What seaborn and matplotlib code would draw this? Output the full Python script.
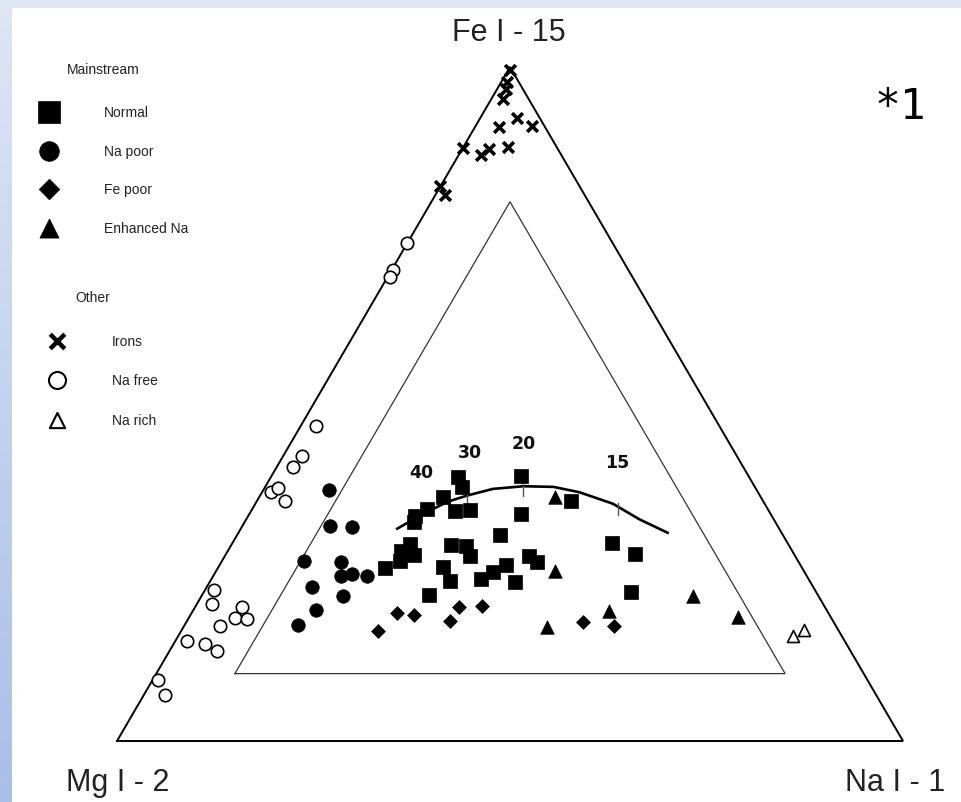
import numpy as np
import pandas as pd
import matplotlib
matplotlib.use("Agg")
import matplotlib.pyplot as plt
import seaborn as sns

# ---------------- data (ternary percentages: Fe, Na; Mg = 100 - Fe - Na) ----------------
normal_fe = [39.2, 37.7, 36.2, 34.4, 33.4, 32.5, 34.1, 34.3, 39.3, 33.7, 35.6, 30.6, 29.1, 28.9, 27.4, 29.2,
             28.2, 27.6, 26.7, 25.7, 25.8, 23.7, 24.0, 25.1, 26.1, 23.6, 27.4, 26.6, 21.7, 29.4, 27.7, 22.1]
normal_na = [23.8, 25.1, 23.4, 22.2, 21.2, 21.5, 25.9, 27.7, 31.7, 34.5, 40.0, 33.4, 27.9, 30.0, 31.2, 22.7,
             22.0, 24.0, 22.6, 21.2, 28.6, 30.5, 34.3, 35.3, 36.5, 38.8, 38.7, 40.1, 28.8, 48.3, 52.1, 54.3]
na_poor_fe = [37.2, 31.9, 31.8, 26.7, 26.6, 24.5, 24.8, 24.5, 22.8, 21.5, 19.4, 17.2]
na_poor_na = [8.4, 11.2, 14.0, 10.5, 15.2, 16.2, 17.5, 19.6, 13.4, 18.0, 15.6, 14.4]
fe_poor_fe = [16.3, 19.0, 18.7, 17.8, 19.9, 20.0, 17.7, 17.1]
fe_poor_na = [25.1, 26.1, 28.4, 33.5, 33.6, 36.4, 50.5, 54.7]
enh_na_fe = [36.2, 25.2, 19.3, 16.9, 21.5, 18.4]
enh_na_na = [37.6, 43.1, 52.9, 46.3, 62.5, 69.8]
irons_fe = [99.5, 97.8, 96.7, 95.3, 91.1, 92.4, 91.2, 88.0, 86.9, 87.8, 88.1, 82.3, 81.0]
irons_na = [0.2, 0.7, 1.2, 1.4, 3.0, 4.7, 7.2, 0.0, 2.8, 3.4, 5.7, 0.0, 1.2]
na_free_fe = [73.9, 69.9, 68.8, 46.7, 42.3, 40.7, 36.9, 37.5, 35.6, 22.4, 20.3, 17.1, 14.8, 14.4,
              13.4, 19.9, 18.2, 18.1, 9.1, 6.8]
na_free_na = [0.0, 0.2, 0.3, 2.0, 2.4, 2.1, 1.2, 1.7, 3.6, 1.1, 1.9, 4.5, 1.5, 4.0,
              6.0, 6.0, 5.9, 7.5, 0.7, 2.7]
na_rich_fe = [15.6, 16.5]
na_rich_na = [78.2, 79.1]

trend_fe = [31.5, 33.4, 35.5, 36.4, 37.4, 37.8, 37.7, 36.9, 35.2, 32.9, 30.9]
trend_na = [19.9, 21.8, 24.3, 26.3, 29.1, 32.8, 36.7, 40.4, 45.5, 50.0, 54.6]
trend_labels = ["40", "30", "20", "15"]
trend_label_fe = [39.9, 42.9, 44.2, 41.4]
trend_label_na = [18.8, 23.4, 29.6, 43.0]
trend_tick_fe = [36.4, 37.8, 34.9]
trend_tick_na = [26.3, 32.8, 46.3]

outer_fe = [0, 0, 100, 0]
outer_na = [0, 100, 0, 0]
inner_fe = [10, 10, 80, 10]
inner_na = [10, 80, 10, 10]

apex_labels = ["Fe I - 15", "Mg I - 2", "Na I - 1"]


def tern(fe, na):
    fe = np.asarray(fe, float) / 100.0
    na = np.asarray(na, float) / 100.0
    return na + fe / 2.0, fe


frames = []
for name, fe, na in [("Normal", normal_fe, normal_na), ("Na poor", na_poor_fe, na_poor_na),
                     ("Fe poor", fe_poor_fe, fe_poor_na), ("Enhanced Na", enh_na_fe, enh_na_na),
                     ("Irons", irons_fe, irons_na), ("Na free", na_free_fe, na_free_na),
                     ("Na rich", na_rich_fe, na_rich_na)]:
    x, y = tern(fe, na)
    frames.append(pd.DataFrame({"group": name, "x": x, "y": y}))
df = pd.concat(frames, ignore_index=True)

# ---------------- figure ----------------
W, H = 961, 803
fig = plt.figure(figsize=(W / 100, H / 100), dpi=100)

# background frame (light blue band top / left)
bg = fig.add_axes([0, 0, 1, 1])
img = np.ones((H, W, 3))
top_c = np.array([0xdf, 0xe6, 0xf4]) / 255.0
bot_c = np.array([0xa8, 0xbf, 0xe8]) / 255.0
img[:9, :, :] = top_c
t = np.linspace(0, 1, H)[:, None]
img[:, :12, :] = (top_c * (1 - t) + bot_c * t)[:, None, :].repeat(12, axis=1)
bg.imshow(img, extent=[0, W, H, 0], aspect="auto", interpolation="bilinear")
bg.set_xlim(0, W)
bg.set_ylim(H, 0)
bg.axis("off")

ax = fig.add_axes([0, 0, 1, 1])
ax.patch.set_alpha(0)
L, R, B, T = 117, 903, 742, 68


def px(x, y):
    return (x - L) / (R - L), (B - y) / (B - T)


ox, oy = tern(outer_fe, outer_na)
ax.plot(ox, oy, color="black", lw=1.4, solid_joinstyle="miter", zorder=1)
ix, iy = tern(inner_fe, inner_na)
ax.plot(ix, iy, color="#333333", lw=0.9, solid_joinstyle="miter", zorder=1)

tx, ty = tern(trend_fe, trend_na)
ax.plot(tx, ty, color="black", lw=1.9, zorder=2)
kx, ky = tern(trend_tick_fe, trend_tick_na)
for xx, yy in zip(kx, ky):
    ax.plot([xx, xx], [yy + 0.004, yy - 0.014], color="#555555", lw=1.0, zorder=2)
lx, ly = tern(trend_label_fe, trend_label_na)
for lab, xx, yy in zip(trend_labels, lx, ly):
    ax.text(xx, yy, lab, ha="center", va="center", fontsize=12.5, fontweight="bold",
            family="DejaVu Sans", color="#111111")

styles = {
    "Normal": dict(marker="s", s=110, color="black", edgecolor="black", linewidth=0.5),
    "Na poor": dict(marker="o", s=95, color="black", edgecolor="black", linewidth=0.5),
    "Fe poor": dict(marker="D", s=50, color="black", edgecolor="black", linewidth=0.5),
    "Enhanced Na": dict(marker="^", s=95, color="black", edgecolor="black", linewidth=0.5),
    "Irons": dict(marker="x", s=60, color="black", linewidth=2.6),
    "Na free": dict(marker="o", s=80, facecolor="white", edgecolor="black", linewidth=1.2),
    "Na rich": dict(marker="^", s=75, facecolor="white", edgecolor="black", linewidth=1.2),
}
for name in ["Na free", "Na rich", "Irons", "Fe poor", "Enhanced Na", "Na poor", "Normal"]:
    sub = df[df["group"] == name]
    sns.scatterplot(data=sub, x="x", y="y", ax=ax, legend=False, zorder=3, **styles[name])

ax.set_xlim(-L / (R - L), (W - L) / (R - L))
ax.set_ylim(-(H - B) / (B - T), B / (B - T))
ax.axis("off")

# axis (apex) labels
lab_font = dict(family=["Liberation Sans Narrow", "Liberation Sans", "DejaVu Sans"], fontsize=22,
                color="#222222")
ax.text(*px(509, 33), apex_labels[0], ha="center", va="center", **lab_font)
ax.text(*px(66, 783), apex_labels[1], ha="left", va="center", **lab_font)
ax.text(*px(845, 783), apex_labels[2], ha="left", va="center", **lab_font)
ax.text(*px(900, 107), "*1", ha="center", va="center", family="DejaVu Sans Mono", fontsize=31,
        color="black")

# legend (custom, with group headers)
leg_font = dict(family=["Liberation Sans", "DejaVu Sans"], fontsize=10, color="#222222")
ax.text(*px(67, 70), "Mainstream", ha="left", va="center", **leg_font)
rows1 = [("Normal", 113), ("Na poor", 152), ("Fe poor", 190), ("Enhanced Na", 229)]
leg_sizes = {"Normal": 230, "Na poor": 200, "Fe poor": 110, "Enhanced Na": 190,
             "Irons": 110, "Na free": 150, "Na rich": 120}
for name, yy in rows1:
    st = dict(styles[name])
    st["s"] = leg_sizes[name]
    ax.scatter(*px(49, yy), zorder=3, **st)
    ax.text(*px(104, yy), name, ha="left", va="center", **leg_font)
ax.text(*px(75, 298), "Other", ha="left", va="center", **leg_font)
rows2 = [("Irons", 342), ("Na free", 381), ("Na rich", 421)]
for name, yy in rows2:
    st = dict(styles[name])
    st["s"] = leg_sizes[name]
    if name == "Irons":
        st["linewidth"] = 3.2
    else:
        st["linewidth"] = 1.5
    ax.scatter(*px(57, yy), zorder=3, **st)
    ax.text(*px(112, yy), name, ha="left", va="center", **leg_font)

fig.savefig("out.png", dpi=100)
